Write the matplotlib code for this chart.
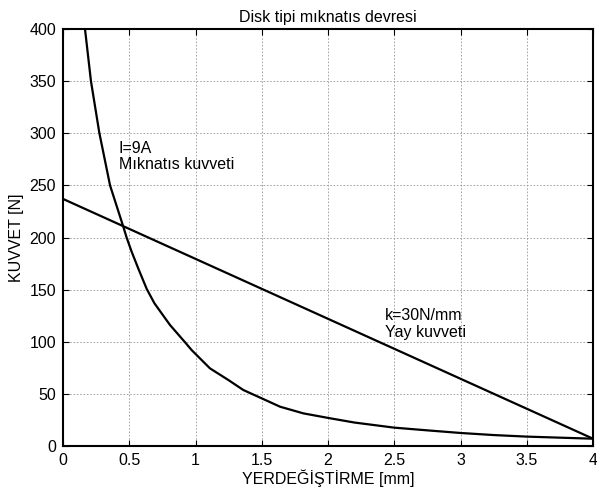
import matplotlib.pyplot as plt
import numpy as np

plt.rcParams['font.family'] = ['Liberation Sans', 'DejaVu Sans']

# magnet force curve (I=9A)
magX = [0.166, 0.211, 0.274, 0.355, 0.455, 0.48, 0.518, 0.569, 0.632, 0.69, 0.757, 0.808,
        0.921, 0.971, 1.109, 1.248, 1.361, 1.5, 1.638, 1.814, 2.015, 2.2, 2.5, 2.75,
        3.0, 3.25, 3.5, 3.75, 4.0]
magF = [400, 350, 300.5, 250, 210.4, 200, 186.4, 170, 150.6, 136.9, 125, 116,
        99.5, 92, 74.5, 63.3, 53.7, 45.7, 37.7, 31.3, 26.6, 22.5, 17.6, 15,
        12.5, 10.5, 9, 8, 7]

# spring force line (k=30N/mm)
springX = [0, 4]
springF = [237, 7]

fs = 11.5

fig = plt.figure(figsize=(5.97, 4.97), dpi=100)
ax = fig.add_axes([63 / 597, 1 - 446 / 497, 530 / 597, 417 / 497])

ax.plot(magX, magF, color='k', linewidth=1.6)
ax.plot(springX, springF, color='k', linewidth=1.6)

ax.text(0.42, 293, "I=9A\nMıknatıs kuvveti", fontsize=fs, va='top', ha='left', linespacing=1.15)
ax.text(2.43, 132, "k=30N/mm\nYay kuvveti", fontsize=fs, va='top', ha='left', linespacing=1.15)

ax.set_xlim(0, 4)
ax.set_ylim(0, 400)
ax.set_xticks(np.arange(0, 4.01, 0.5))
ax.set_xticklabels(['0', '0.5', '1', '1.5', '2', '2.5', '3', '3.5', '4'])
ax.set_yticks(np.arange(0, 401, 50))
ax.grid(True, color='#999999', linestyle=(0, (2, 2)), linewidth=0.6)
ax.tick_params(direction='in', top=True, right=True, labelsize=fs, length=4, width=0.8, pad=5)
for s in ax.spines.values():
    s.set_linewidth(1.5)

ax.set_title("Disk tipi mıknatıs devresi", fontsize=fs, pad=5)
ax.set_xlabel("YERDEĞİŞTİRME [mm]", fontsize=fs, labelpad=1)
ax.set_ylabel("KUVVET [N]", fontsize=fs, labelpad=4)

fig.savefig("out.png", dpi=100)
